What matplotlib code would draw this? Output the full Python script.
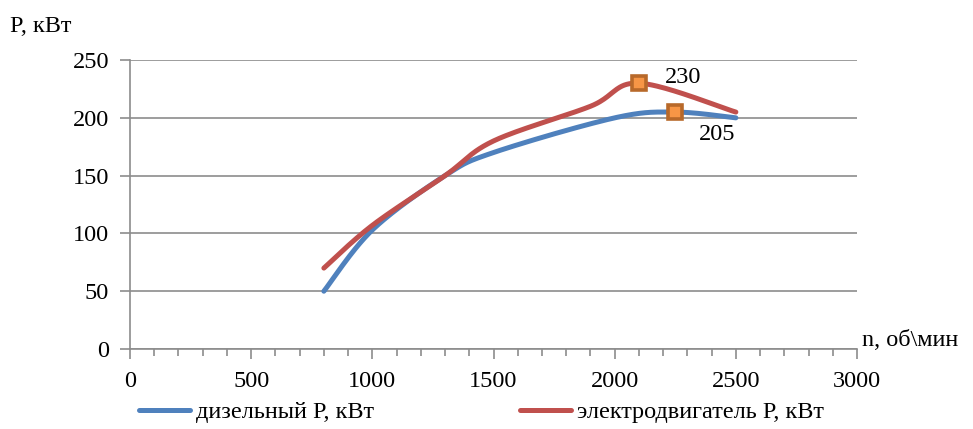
import numpy as np
import matplotlib
matplotlib.use("Agg")
import matplotlib.pyplot as plt
from matplotlib.ticker import MultipleLocator

SERIF = 'Liberation Serif'

# Engine speed, rpm, and power, kW
diesel_n = [800, 1000, 1300, 1500, 2000, 2250, 2500]
diesel_p = [50, 103, 150, 170, 200, 205, 200]
electric_n = [800, 1000, 1300, 1500, 1900, 2100, 2500]
electric_p = [70, 107, 150, 180, 210, 230, 205]

diesel_label = "дизельный Р, кВт"
electric_label = "электродвигатель Р, кВт"
diesel_peak = (2250, 205)
electric_peak = (2100, 230)

x_ticks = [0, 500, 1000, 1500, 2000, 2500, 3000]
y_ticks = [0, 50, 100, 150, 200, 250]

FS = 17.5


def smooth(xs, ys, steps=40, tension=0.5):
    """Cardinal-spline smoothing through the given points."""
    x = np.asarray(xs, float)
    y = np.asarray(ys, float)
    px = np.concatenate([[x[0]], x, [x[-1]]])
    py = np.concatenate([[y[0]], y, [y[-1]]])
    out_x, out_y = [], []
    t = np.linspace(0, 1, steps)
    for i in range(1, len(px) - 2):
        p0x, p1x, p2x, p3x = px[i - 1:i + 3]
        p0y, p1y, p2y, p3y = py[i - 1:i + 3]
        m1x, m2x = tension * (p2x - p0x), tension * (p3x - p1x)
        m1y, m2y = tension * (p2y - p0y), tension * (p3y - p1y)
        h00 = 2 * t**3 - 3 * t**2 + 1
        h10 = t**3 - 2 * t**2 + t
        h01 = -2 * t**3 + 3 * t**2
        h11 = t**3 - t**2
        out_x.append(h00 * p1x + h10 * m1x + h01 * p2x + h11 * m2x)
        out_y.append(h00 * p1y + h10 * m1y + h01 * p2y + h11 * m2y)
    return np.concatenate(out_x), np.concatenate(out_y)


fig = plt.figure(figsize=(9.73, 4.29), dpi=100)
ax = fig.add_axes([0.1336, 0.1865, 0.8808 - 0.1336, 0.860 - 0.1865])

blue = "#4F81BD"
red = "#C0504D"
grid_c = "#8C8C8C"

dx, dy = smooth(diesel_n, diesel_p)
ex, ey = smooth(electric_n, electric_p)
ax.plot(dx, dy, color=blue, lw=3.6, solid_capstyle='round', zorder=3, label=diesel_label)
ax.plot(ex, ey, color=red, lw=3.6, solid_capstyle='round', zorder=3, label=electric_label)

for (px, py) in (electric_peak, diesel_peak):
    ax.plot([px], [py], marker='s', ms=10, mfc="#F79646", mec="#B8692A", mew=2.6, zorder=5)

ax.annotate(str(electric_peak[1]), electric_peak, xytext=(19, 4), textcoords='offset points',
            family=SERIF, fontsize=FS, va='center', ha='left')
ax.annotate(str(diesel_peak[1]), diesel_peak, xytext=(17, -16), textcoords='offset points',
            family=SERIF, fontsize=FS, va='center', ha='left')

ax.set_xlim(0, 3000)
ax.set_ylim(0, 250)
ax.set_xticks(x_ticks)
ax.set_xticklabels([str(v) for v in x_ticks], family=SERIF, fontsize=FS)
ax.set_yticks(y_ticks)
ax.set_yticklabels([str(v) for v in y_ticks], family=SERIF, fontsize=FS)
ax.xaxis.set_minor_locator(MultipleLocator(100))
ax.tick_params(axis='both', color=grid_c, width=1.2)
ax.tick_params(axis='x', which='major', length=7, pad=9)
ax.tick_params(axis='x', which='minor', length=5, color=grid_c, width=1.2)
ax.tick_params(axis='y', which='major', length=7, pad=8)

ax.yaxis.grid(True, color=grid_c, lw=1.2)
ax.set_axisbelow(True)
for s in ('top', 'right'):
    ax.spines[s].set_visible(False)
for s in ('left', 'bottom'):
    ax.spines[s].set_color(grid_c)
    ax.spines[s].set_linewidth(1.2)

fig.text(10 / 973, 1 - 26 / 429, "P, кВт", family=SERIF, fontsize=FS, va='center', ha='left')
fig.text(862 / 973, 1 - 341 / 429, "n, об\\мин", family=SERIF, fontsize=FS, va='center', ha='left')

leg = fig.legend(loc='center left', bbox_to_anchor=(139 / 973, 1 - 412 / 429), ncol=2, frameon=False,
                 prop={'family': SERIF, 'size': FS}, handlelength=2.1, handletextpad=0.25,
                 columnspacing=6.0, borderaxespad=0, borderpad=0)

fig.savefig("out.png", dpi=100)
